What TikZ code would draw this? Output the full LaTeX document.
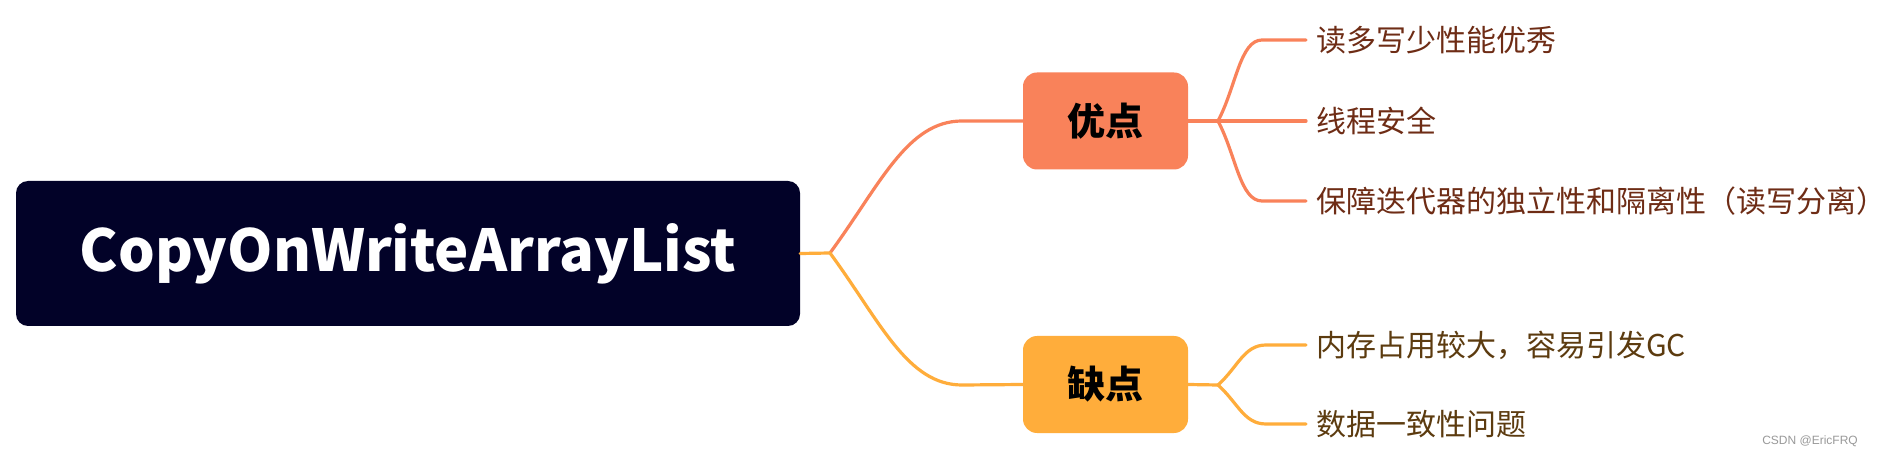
\documentclass[tikz,border=0pt]{standalone}
\usepackage{fontspec}
\setmainfont{Noto Sans CJK SC}
\newfontfamily\wmfont{Liberation Sans}
\usetikzlibrary{calc}
\definecolor{rootfill}{HTML}{020228}
\definecolor{procol}{HTML}{F9825A}
\definecolor{concol}{HTML}{FFAD3B}
\definecolor{protext}{HTML}{6E2C15}
\definecolor{context}{HTML}{5C3B0F}
\tikzset{
  rootbox/.style={rectangle, rounded corners=12pt, fill=rootfill, text=white,
    minimum width=784pt, minimum height=145pt, inner sep=0pt,
    font=\fontsize{57.8}{66}\selectfont\bfseries},
  catbox/.style={rectangle, rounded corners=14pt, text=black,
    minimum width=165pt, minimum height=97pt, inner sep=0pt,
    font=\fontsize{38}{44}\selectfont\bfseries},
  leaf/.style={anchor=west, inner sep=0pt,
    font=\fontsize{30}{36}\selectfont},
  pline/.style={draw=procol, line width=3.2pt, line cap=round},
  cline/.style={draw=concol, line width=3.2pt, line cap=round},
}
\begin{document}
\begin{tikzpicture}[x=1pt,y=-1pt]
\useasboundingbox[fill=white] (0,0) rectangle (1891,462);
% nodes
\node[rootbox] (root) at (408,253.5) {CopyOnWriteArrayList};
\node[catbox, fill=procol] (pro) at (1105.5,121) {优点};
\node[catbox, fill=concol] (con) at (1105.5,384.5) {缺点};
\node[leaf, text=protext] (p1) at (1316,40) {读多写少性能优秀};
\node[leaf, text=protext] (p2) at (1316,121) {线程安全};
\node[leaf, text=protext] (p3) at (1316,201) {保障迭代器的独立性和隔离性（读写分离）};
\node[leaf, text=context] (c1) at (1316,345) {内存占用较大，容易引发GC};
\node[leaf, text=context] (c2) at (1316,424) {数据一致性问题};
\node[anchor=east, text=gray!80, font=\wmfont\fontsize{12}{14}\selectfont, inner sep=0pt] (wm) at (1858,441) {CSDN @EricFRQ};
% junctions
\coordinate (j0) at (830,253);
\coordinate (jp) at (1218,121);
\coordinate (jc) at (1218,385);
\coordinate (pa) at (962,121);
\coordinate (ca) at (962,385);
\coordinate (p1a) at (1262,40);
\coordinate (p3a) at (1262,201);
\coordinate (c1a) at (1266,345);
\coordinate (c2a) at (1266,424);
% connectors: root to categories
\draw[pline] (j0) .. controls +(50,-68) and +(-55,0) .. (pa) -- (pro.west);
\draw[cline] (root.east) -- (j0) .. controls +(50,68) and +(-55,0) .. (ca) -- (con.west);
% pro children
\draw[pline] (pro.east) -- ([xshift=-10pt]p2.west);
\draw[pline] (jp) .. controls +(18,-34) and +(-22,0) .. (p1a) -- ([xshift=-10pt]p1.west);
\draw[pline] (jp) .. controls +(18,34) and +(-22,0) .. (p3a) -- ([xshift=-10pt]p3.west);
% con children
\draw[cline] (con.east) -- (jc);
\draw[cline] (jc) .. controls +(20,-18) and +(-22,0) .. (c1a) -- ([xshift=-10pt]c1.west);
\draw[cline] (jc) .. controls +(20,18) and +(-22,0) .. (c2a) -- ([xshift=-10pt]c2.west);
\end{tikzpicture}
\end{document}
